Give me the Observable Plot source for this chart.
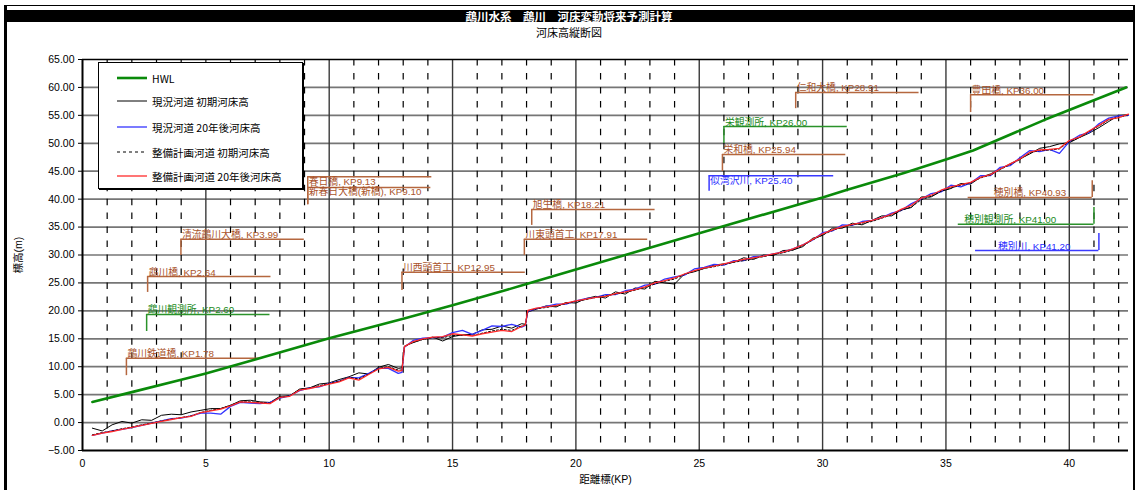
<!DOCTYPE html>
<html><head><meta charset="utf-8">
<script src="https://cdn.jsdelivr.net/npm/d3@7"></script>
<script src="https://cdn.jsdelivr.net/npm/@observablehq/plot@0.6"></script>
<style>
body{margin:0;background:#fff;font-family:"Liberation Sans","Noto Sans CJK JP",sans-serif;}
#wrap{position:relative;width:1138px;height:490px;overflow:hidden;background:#fff;}
#chart{position:absolute;left:0;top:0;}
#frame{position:absolute;left:4px;top:5px;width:1126px;height:500px;border-left:3px solid #000;border-right:2px solid #000;border-top:1px solid #000;pointer-events:none;}
#title{position:absolute;left:5px;top:10px;width:1128px;height:12px;background:#000;color:#fff;font-weight:bold;font-size:11.5px;line-height:12px;text-align:center;font-family:"Noto Sans CJK JP",sans-serif;}
#subtitle{position:absolute;left:0;top:26px;width:1138px;text-align:center;font-size:11px;line-height:13px;font-family:"Noto Sans CJK JP",sans-serif;color:#000;}
#legend{position:absolute;left:98px;top:62px;width:203px;height:125px;border:1px solid #000;background:#fff;box-shadow:1px 1px 0 #000;font-family:"Noto Sans CJK JP",sans-serif;font-size:10.5px;}
.li{position:absolute;left:18px;height:14px;display:flex;align-items:center;white-space:nowrap;}
.li svg{margin-right:3px;}
</style></head>
<body>
<div id="wrap">
  <div id="chart"></div>
  <div id="frame"></div>
  <div id="title"></div>
  <div id="subtitle"></div>
  <div id="legend"></div>
</div>
<script>
// ---- text ----
const titleText = "鵡川水系　鵡川　河床変動将来予測計算";
const subtitleText = "河床高縦断図";
const xLabel = "距離標(KP)";
const yLabel = "標高(m)";
const seriesNames = ["HWL", "現況河道 初期河床高", "現況河道 20年後河床高", "整備計画河道 初期河床高", "整備計画河道 20年後河床高"];

// ---- axes ----
const xTicks = [0, 5, 10, 15, 20, 25, 30, 35, 40];
const yTicks = [-5, 0, 5, 10, 15, 20, 25, 30, 35, 40, 45, 50, 55, 60, 65];

// ---- HWL ----
const hwlKP = [0.4, 2.0, 4.0, 5.0, 7.0, 10.0, 13.0, 15.0, 17.0, 18.0, 20.0, 25.0, 30.0, 31.0, 33.3, 35.0, 36.1, 39.0, 42.3];
const hwlZ  = [3.7, 5.45, 7.65, 8.8, 11.3, 15.1, 18.6, 21.0, 23.5, 24.8, 27.4, 33.9, 40.3, 41.7, 44.7, 47.1, 48.7, 54.2, 60.0];

// ---- river bed profiles ----
const kp = [0.4,0.8,1.2,1.6,2.0,2.4,2.8,3.2,3.6,4.0,4.4,4.8,5.2,5.6,6.0,6.4,6.8,7.2,7.6,8.0,8.4,8.8,9.2,9.6,10.0,10.4,10.8,11.2,11.6,12.0,12.4,12.8,
  12.95,13.05,
  13.4,13.8,14.2,14.6,15.0,15.4,15.8,16.2,16.6,17.0,17.4,17.8,
  17.95,18.05,
  18.4,18.8,19.2,19.6,20.0,20.4,20.8,21.2,21.6,22.0,22.4,22.8,23.2,23.6,24.0,24.4,24.8,25.2,25.6,26.0,26.4,26.8,27.2,27.6,28.0,28.4,28.8,29.2,29.6,30.0,30.4,30.8,31.2,31.6,32.0,32.4,32.8,33.2,33.6,34.0,34.4,34.8,35.2,35.6,36.0,36.4,36.8,37.2,37.6,38.0,38.4,38.8,39.2,39.6,40.0,40.4,40.8,41.2,41.6,42.0,42.4];
// 現況河道 初期河床高
const bedExistInit = [-1.0,-1.5,-0.4,0.2,-0.1,0.5,0.4,1.3,1.5,1.4,1.9,2.2,2.5,2.5,3.1,3.9,4.0,3.7,3.6,4.7,4.8,6.0,6.2,6.9,7.1,7.7,8.2,8.9,8.7,9.9,10.4,9.7,
  9.8,13.7,
  14.3,14.9,15.3,14.6,15.4,15.7,15.8,16.6,16.7,17.3,16.9,17.7,
  17.6,19.8,
  20.3,20.9,20.7,21.5,21.4,22.2,22.6,22.3,23.4,23.0,24.1,23.9,25.3,25.0,24.8,26.6,27.0,27.6,28.2,28.4,28.7,29.5,29.2,30.0,29.9,30.8,30.9,31.5,33.0,33.5,34.8,34.8,35.7,35.4,36.2,37.0,37.0,38.1,38.5,40.4,40.4,41.4,41.9,42.8,42.7,43.9,44.5,45.4,46.3,47.2,48.1,49.1,49.4,49.9,50.1,51.0,51.8,52.8,53.9,55.0,55.1];
// 現況河道 20年後河床高
const bedExist20 = [-2.3,-1.9,-1.5,-1.2,-0.9,-0.5,-0.1,0.3,0.7,0.8,1.2,1.7,1.7,1.5,2.9,3.6,3.5,3.4,3.6,4.4,4.8,5.7,6.2,6.4,7.0,7.4,8.1,8.0,8.8,9.7,9.7,8.8,
  9.0,13.5,
  14.7,15.1,15.2,15.3,16.1,16.5,15.8,16.5,17.3,17.2,17.6,17.1,
  17.4,19.9,
  20.4,20.8,21.2,21.2,21.8,22.2,22.4,22.9,22.9,23.6,23.9,24.6,24.8,25.7,26.1,26.4,27.5,27.8,28.3,28.2,29.0,29.0,29.7,29.8,30.2,30.5,31.1,31.8,32.7,34.0,34.3,35.4,35.3,36.0,36.2,36.7,37.5,38.0,39.2,40.0,41.0,41.3,42.5,42.2,42.9,44.2,44.2,45.7,46.0,47.4,48.7,48.5,48.9,48.2,50.3,51.4,51.9,53.5,54.5,54.9,55.0];
// 整備計画河道 初期河床高
const bedPlanInit = [-2.2,-1.8,-1.5,-1.1,-0.8,-0.4,-0.1,0.3,0.6,0.9,1.2,1.8,2.2,2.5,3.1,3.7,3.7,3.6,3.5,4.5,4.8,5.9,6.2,6.6,7.0,7.4,8.1,7.8,8.7,9.7,10.0,9.4,
  9.4,13.6,
  14.4,14.9,15.2,15.2,15.6,15.6,15.6,16.0,16.4,16.7,16.5,17.3,
  17.5,20.0,
  20.4,20.6,20.9,21.3,21.7,22.0,22.4,22.7,23.0,23.3,23.7,24.2,24.8,25.3,25.7,26.5,27.1,27.6,27.9,28.3,28.7,29.0,29.4,29.7,30.1,30.4,30.9,31.7,32.7,33.6,34.4,35.0,35.4,35.7,36.0,36.6,37.2,38.0,38.6,39.9,40.5,41.4,42.0,42.5,42.9,43.8,44.3,45.3,46.2,47.1,48.3,48.7,48.8,49.0,50.3,51.0,52.1,53.1,54.2,54.6,55.1];
// 整備計画河道 20年後河床高
const bedPlan20 = [-2.3,-1.9,-1.6,-1.2,-0.85,-0.5,-0.15,0.2,0.55,0.9,1.1,1.8,2.1,2.4,3.0,3.7,3.6,3.5,3.4,4.5,4.7,5.8,6.1,6.5,6.9,7.3,8.0,7.6,8.6,9.6,9.9,9.2,
  9.3,13.6,
  14.5,15.0,15.3,15.4,15.9,15.7,15.5,15.9,16.2,16.5,16.3,17.2,
  17.5,20.1,
  20.5,20.7,21.0,21.4,21.8,22.1,22.4,22.6,23.1,23.4,23.8,24.3,25.0,25.4,25.9,26.6,27.2,27.7,28.0,28.4,28.8,29.2,29.5,29.8,30.2,30.5,31.1,31.8,32.8,33.8,34.5,35.1,35.5,35.8,36.2,36.7,37.3,38.2,38.9,40.2,40.7,41.6,42.2,42.6,43.0,43.9,44.4,45.4,46.3,47.2,48.4,48.8,48.9,49.1,50.5,51.1,52.2,53.2,54.3,54.6,55.2];

// ---- structures (annotations) ----
const annoLabel = ["鵡川鉄道橋, KP1.78","鵡川観測所, KP2.60","鵡川橋, KP2.64","清流鵡川大橋, KP3.99","春日橋, KP9.13","新春日大橋(新橋), KP9.10","川西頭首工, KP12.95","川東頭首工, KP17.91","旭生橋, KP18.21","似湾沢川, KP25.40","栄和橋, KP25.94","栄観測所, KP26.00","仁和大橋, KP28.91","豊田橋, KP36.00","穂別橋, KP40.93","穂別観測所, KP41.00","穂別川, KP41.20"];
const annoType  = ["橋梁","観測所","橋梁","橋梁","橋梁","橋梁","橋梁","橋梁","橋梁","支川","橋梁","観測所","橋梁","橋梁","橋梁","観測所","支川"];
const annoKP    = [1.78, 2.60, 2.64, 3.99, 9.13, 9.13, 12.95, 17.91, 18.21, 25.40, 25.94, 26.00, 28.91, 36.00, 40.93, 41.00, 41.20];
const annoLineZ = [11.5, 19.35, 26.15, 32.8, 44.0, 42.1, 26.9, 32.8, 38.15, 44.2, 48.0, 53.0, 59.1, 58.7, 40.3, 35.5, 30.8];
const annoTipZ  = [8.4, 16.3, 23.3, 29.9, 39.0, 39.0, 23.65, 29.9, 35.3, 41.4, 44.95, 49.95, 56.2, 55.5, 43.3, 38.5, 33.85];
const annoEndKP = [7.3, 7.6, 7.64, 8.99, 14.16, 14.12, 17.95, 22.91, 23.21, 30.45, 30.94, 31.0, 33.91, 41.0, 35.9, 35.5, 36.2];
const annoTextKP= [1.78, 2.60, 2.64, 3.99, 9.13, 9.13, 12.95, 17.91, 18.21, 25.40, 25.94, 26.00, 28.91, 36.00, 36.9, 35.7, 37.07];
const annoBelow = [false,false,false,false,true,true,false,false,false,true,false,false,false,false,false,false,false];

// ---- styles ----
const typeText = {"橋梁":"#a9532b","観測所":"#1b8a1b","支川":"#2b2bff"};
const typeLine = {"橋梁":"#b5673f","観測所":"#2a922a","支川":"#3a3aff"};
const cHWL = "#0a8a0a", cBlue = "#3333ff", cRed = "#ff2a2a";

document.getElementById("title").textContent = titleText;
document.getElementById("subtitle").textContent = subtitleText;

const bed = kp.map((k, i) => ({kp: k, ei: bedExistInit[i], e20: bedExist20[i], pi: bedPlanInit[i], p20: bedPlan20[i]}));
const hwl = hwlKP.map((k, i) => ({kp: k, z: hwlZ[i]}));
const annos = annoLabel.map((t, i) => ({label: t, type: annoType[i], kp: annoKP[i], line: annoLineZ[i], tip: annoTipZ[i], end: annoEndKP[i], tx: annoTextKP[i], below: annoBelow[i]}));
const dashedKm = d3.range(1, 43).filter(k => k % 5 !== 0);

const plot = Plot.plot({
  width: 1138, height: 490,
  marginLeft: 82, marginRight: 10, marginTop: 59, marginBottom: 40,
  style: {fontSize: "10.5px", fontFamily: "'Liberation Sans','Noto Sans CJK JP',sans-serif", color: "#000", background: "transparent"},
  x: {domain: [0, 42.4], ticks: xTicks, tickSize: 0, tickPadding: 9, tickFormat: d => String(d), label: xLabel, labelAnchor: "center", labelOffset: 32, labelArrow: "none"},
  y: {domain: [-5, 65], ticks: yTicks, tickFormat: d3.format(".2f"), tickSize: 4, tickPadding: 4, label: yLabel, labelAnchor: "center", labelOffset: 68, labelArrow: "none"},
  marks: [
    Plot.ruleY(yTicks.filter(v => v > -5 && v < 65), {stroke: "#767676", strokeWidth: 1.7}),
    Plot.ruleX(dashedKm, {y1: 65, y2: -5, stroke: "#000", strokeWidth: 1.2, strokeDasharray: "6.5,7.465"}),
    Plot.ruleX(xTicks.filter(v => v > 0), {stroke: "#3a3a3a", strokeWidth: 1.4}),
    Plot.ruleY([65], {stroke: "#000", strokeWidth: 1.5}),
    Plot.ruleY([-5], {stroke: "#000", strokeWidth: 2}),
    Plot.ruleX([0], {stroke: "#000", strokeWidth: 2}),
    // annotations
    Plot.ruleX(annos, {x: "kp", y1: "tip", y2: "line", stroke: d => typeLine[d.type], strokeWidth: 1.5}),
    Plot.ruleY(annos, {y: "line", x1: "kp", x2: "end", stroke: d => typeLine[d.type], strokeWidth: 1.5}),
    Plot.text(annos.filter(d => !d.below), {x: "tx", y: "line", text: "label", textAnchor: "start", lineAnchor: "bottom", dy: -1, dx: 1, fill: d => typeText[d.type], fontSize: 9.8}),
    Plot.text(annos.filter(d => d.below), {x: "tx", y: "line", text: "label", textAnchor: "start", lineAnchor: "top", dy: 1, dx: 1, fill: d => typeText[d.type], fontSize: 9.8}),
    // HWL
    Plot.line(hwl, {x: "kp", y: "z", stroke: cHWL, strokeWidth: 2.6}),
    // bed
    Plot.line(bed, {x: "kp", y: "ei", stroke: "#000", strokeWidth: 1}),
    Plot.line(bed, {x: "kp", y: "e20", stroke: cBlue, strokeWidth: 1.3}),
    Plot.line(bed, {x: "kp", y: "pi", stroke: "#000", strokeWidth: 1, strokeDasharray: "2,2"}),
    Plot.line(bed, {x: "kp", y: "p20", stroke: cRed, strokeWidth: 1.3})
  ]
});
document.getElementById("chart").appendChild(plot);

// legend
const leg = document.getElementById("legend");
const legStyles = [
  {stroke: cHWL, w: 2.6, dash: null},
  {stroke: "#000", w: 1, dash: null},
  {stroke: cBlue, w: 1.3, dash: null},
  {stroke: "#000", w: 1, dash: "3,3"},
  {stroke: cRed, w: 1.3, dash: null}
];
const legTops = [8, 31, 57, 82, 106];
seriesNames.forEach((name, i) => {
  const s = legStyles[i];
  const item = document.createElement("div");
  item.className = "li";
  item.style.top = legTops[i] + "px";
  item.innerHTML = `<svg width="32" height="8"><line x1="0" x2="30" y1="4" y2="4" stroke="${s.stroke}" stroke-width="${s.w}" ${s.dash ? `stroke-dasharray="${s.dash}"` : ""}/></svg><span>${name}</span>`;
  leg.appendChild(item);
});
</script>
</body></html>
